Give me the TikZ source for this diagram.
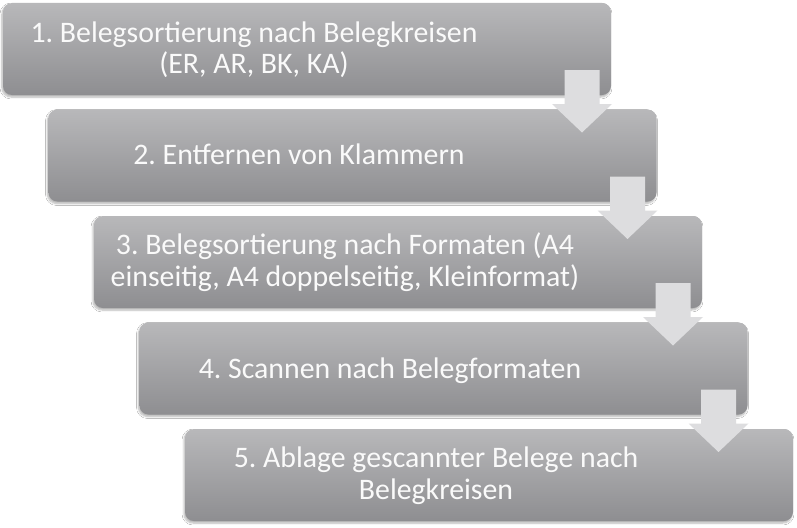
\documentclass[tikz,border=0pt]{standalone}
\usepackage{fontspec}
\setmainfont{Carlito}
\frenchspacing
\usetikzlibrary{shadows.blur}
\definecolor{boxtop}{RGB}{184,184,186}
\definecolor{boxbot}{RGB}{142,142,145}
\definecolor{arrowfill}{RGB}{221,221,223}
\definecolor{txt}{RGB}{250,250,250}
\tikzset{
  stepbox/.style={rounded corners=9pt, top color=boxtop, bottom color=boxbot, draw=none,
    blur shadow={shadow xshift=-1pt, shadow yshift=-2pt, shadow blur steps=6, shadow opacity=30}},
  steptext/.style={text=txt, font=\fontsize{29.8}{31.5}\selectfont\frenchspacing, align=center, inner sep=0pt, anchor=base},
  downarrow/.style={fill=arrowfill, draw=none}
}
\begin{document}
\begin{tikzpicture}[x=1pt,y=-1pt]
\useasboundingbox[fill=white] (0,0) rectangle (797,527);
% boxes
\foreach \i in {1,...,5}{
  \pgfmathsetmacro{\bx}{3+45.5*(\i-1)}
  \pgfmathsetmacro{\by}{3+106.5*(\i-1)}
  \path[stepbox] (\bx,\by) rectangle ++(608,92);
}
% arrows
\foreach \i in {1,...,4}{
  \pgfmathsetmacro{\cx}{3+45.5*(\i-1)+608-29}
  \pgfmathsetmacro{\bb}{3+106.5*(\i-1)+92}
  \pgfmathsetmacro{\nt}{3+106.5*\i}
  \fill[downarrow] (\cx-17.5,\bb-25) -- (\cx+17.5,\bb-25) -- (\cx+17.5,\bb+9) -- (\cx+30,\bb+9)
     -- (\cx,\nt+23) -- (\cx-30,\bb+9) -- (\cx-17.5,\bb+9) -- cycle;
}
% texts (anchor base = baseline of last line)
\node[steptext] (t1) at (254,74) {1. Belegsortierung nach Belegkreisen\\(ER, AR, BK, KA)};
\node[steptext] (t2) at (299,164) {2. Entfernen von Klammern};
\node[steptext] (t3) at (345,286) {3. Belegsortierung nach Formaten (A4\\einseitig, A4 doppelseitig, Kleinformat)};
\node[steptext] (t4) at (390,378) {4. Scannen nach Belegformaten};
\node[steptext] (t5) at (436,499) {5. Ablage gescannter Belege nach\\Belegkreisen};
\end{tikzpicture}
\end{document}
